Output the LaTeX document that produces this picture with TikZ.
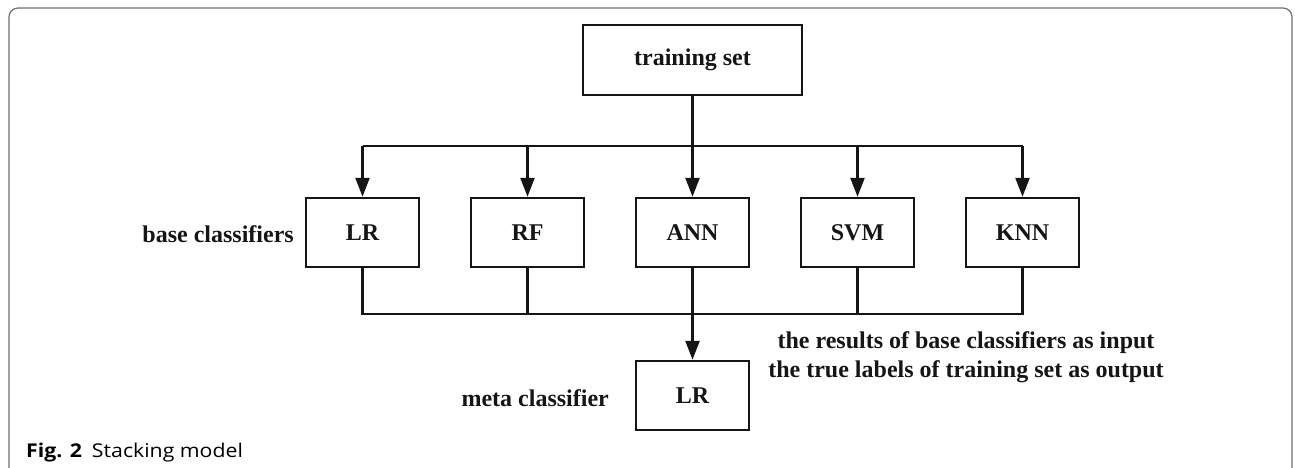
\documentclass[tikz,border=0pt]{standalone}
\usepackage{fontspec}
\setmainfont{Liberation Serif}
\newfontfamily\capfont{Open Sans}[FakeStretch=1.12]
\usetikzlibrary{arrows.meta}
\definecolor{ink}{HTML}{151515}
\definecolor{framegray}{HTML}{6E6E6E}
\begin{document}
\begin{tikzpicture}[x=1pt,y=-1pt,
  box/.style={draw=ink, line width=2.5pt, minimum width=113pt, minimum height=69pt,
    inner sep=0pt, font=\fontsize{24}{28}\selectfont\bfseries, text=ink},
  lbl/.style={inner sep=0pt, font=\fontsize{24}{29}\selectfont\bfseries, text=ink},
  conn/.style={draw=ink, line width=2.5pt},
  arr/.style={conn, -{Triangle[length=19pt,width=14pt]}}]
\useasboundingbox (0,0) rectangle (1295,468);
% frame
\draw[framegray, line width=1.2pt, rounded corners=9pt] (9,480) -- (9,8) -- (1292,8) -- (1292,480);
% nodes
\node[box, minimum width=219pt, minimum height=70pt] (ts) at (692.5,60) {training set};
\node[box] (lr) at (362.5,232.5) {LR};
\node[box] (rf) at (527.5,232.5) {RF};
\node[box] (ann) at (692.5,232.5) {ANN};
\node[box] (svm) at (857.5,232.5) {SVM};
\node[box] (knn) at (1022.5,232.5) {KNN};
\node[box] (meta) at (692.5,395.5) {LR};
\coordinate (tb) at (0,146);
\coordinate (bb) at (0,314);
% top distribution
\draw[conn] (ts.south) -- (ts.south |- tb);
\draw[conn] (lr.north |- tb) -- (knn.north |- tb);
\foreach \n in {lr,rf,ann,svm,knn} \draw[arr] (\n.north |- tb) -- (\n.north);
% bottom collection
\draw[conn] (lr.south) -- (lr.south |- bb) -- (knn.south |- bb) -- (knn.south);
\draw[conn] (rf.south) -- (rf.south |- bb);
\draw[conn] (svm.south) -- (svm.south |- bb);
\draw[arr] (ann.south) -- (meta.north);
% labels
\node[lbl, anchor=east] (bcl) at (294,234) {base classifiers};
\node[lbl, anchor=east] (mcl) at (609,398) {meta classifier};
\node[lbl, align=center] (iol) at (966,357) {the results of base classifiers as input\\the true labels of training set as output};
% caption
\node[anchor=base west, inner sep=0pt, font=\capfont\fontsize{19}{22}\selectfont, text=black] (cap) at (26,457) {\textbf{Fig. 2}\hspace{10pt}Stacking model};
\end{tikzpicture}
\end{document}
